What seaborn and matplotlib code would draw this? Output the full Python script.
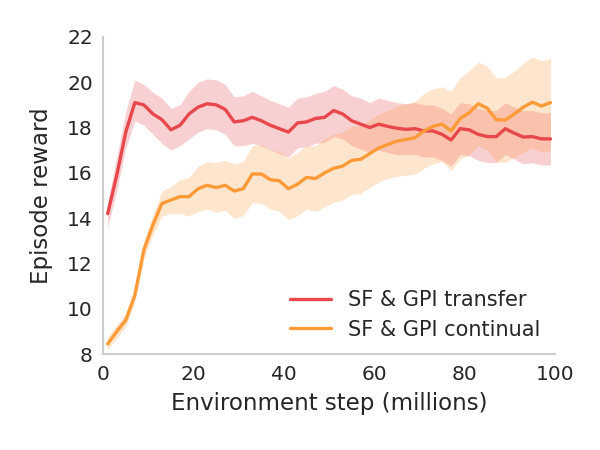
import numpy as np
import pandas as pd
import matplotlib
matplotlib.use('Agg')
import matplotlib.pyplot as plt
import seaborn as sns

# steps (millions)
steps = list(range(1, 100, 2))

# SF & GPI transfer
transfer_mean = [14.2, 15.9, 17.8, 19.1, 19.0, 18.6, 18.35, 17.9, 18.1, 18.6,
                 18.9, 19.05, 19.0, 18.8, 18.25, 18.3, 18.45, 18.3, 18.1, 17.95,
                 17.8, 18.2, 18.25, 18.4, 18.45, 18.75, 18.6, 18.3, 18.15, 18.0,
                 18.15, 18.05, 17.97, 17.92, 17.95, 17.85, 17.85, 17.7, 17.45, 17.95,
                 17.9, 17.7, 17.6, 17.6, 17.95, 17.75, 17.58, 17.6, 17.5, 17.5]
transfer_low = [13.6, 15.2, 17.1, 18.3, 18.1, 17.7, 17.3, 17.0, 17.2, 17.5,
                17.8, 17.95, 17.9, 17.7, 17.2, 17.2, 17.3, 17.2, 17.0, 16.85,
                16.7, 17.1, 17.15, 17.3, 17.35, 17.6, 17.5, 17.2, 17.05, 16.9,
                17.0, 16.9, 16.8, 16.8, 16.8, 16.7, 16.7, 16.55, 16.3, 16.8,
                16.75, 16.55, 16.45, 16.45, 16.8, 16.6, 16.4, 16.45, 16.35, 16.35]
transfer_high = [14.7, 16.7, 18.7, 20.1, 19.9, 19.55, 19.3, 18.85, 19.0, 19.6,
                 20.0, 20.15, 20.1, 19.9, 19.35, 19.4, 19.6, 19.4, 19.2, 19.05,
                 18.9, 19.3, 19.35, 19.5, 19.6, 19.85, 19.7, 19.4, 19.3, 19.1,
                 19.3, 19.2, 19.1, 19.05, 19.1, 19.0, 19.0, 18.85, 18.6, 19.1,
                 19.05, 18.85, 18.75, 18.75, 19.1, 18.9, 18.75, 18.75, 18.65, 18.65]

# SF & GPI continual
continual_mean = [8.45, 9.0, 9.5, 10.6, 12.6, 13.7, 14.65, 14.8, 14.95, 14.95,
                  15.3, 15.45, 15.35, 15.45, 15.2, 15.3, 15.95, 15.95, 15.7, 15.65,
                  15.3, 15.5, 15.8, 15.75, 16.0, 16.2, 16.3, 16.55, 16.6, 16.85,
                  17.1, 17.25, 17.4, 17.47, 17.55, 17.85, 18.05, 18.15, 17.85, 18.4,
                  18.65, 19.05, 18.85, 18.35, 18.33, 18.6, 18.9, 19.12, 18.95, 19.1]
continual_low = [8.2, 8.7, 9.2, 10.3, 12.2, 13.25, 14.1, 14.2, 14.2, 14.1,
                 14.3, 14.4, 14.25, 14.35, 14.0, 14.1, 14.7, 14.65, 14.4, 14.3,
                 13.95, 14.1, 14.4, 14.3, 14.5, 14.7, 14.8, 15.05, 15.1, 15.35,
                 15.6, 15.75, 15.85, 15.9, 15.95, 16.2, 16.4, 16.5, 16.1, 16.6,
                 16.8, 17.2, 17.0, 16.5, 16.45, 16.7, 16.9, 17.1, 16.9, 17.0]
continual_high = [8.75, 9.3, 9.8, 10.9, 13.0, 14.15, 15.2, 15.4, 15.7, 15.8,
                  16.3, 16.5, 16.45, 16.55, 16.4, 16.5, 17.2, 17.25, 17.0, 16.95,
                  16.65, 16.9, 17.2, 17.2, 17.5, 17.7, 17.8, 18.05, 18.1, 18.35,
                  18.6, 18.75, 18.95, 19.05, 19.15, 19.5, 19.7, 19.8, 19.6, 20.2,
                  20.5, 20.9, 20.7, 20.2, 20.2, 20.5, 20.85, 21.1, 20.95, 21.05]

labels = ['SF & GPI transfer', 'SF & GPI continual']
colors = ['#e8474c', '#fe9b38']

sns.set_style('white')
plt.rcParams['font.family'] = ['DejaVu Sans']

df = pd.concat([
    pd.DataFrame({'step': steps, 'reward': transfer_mean, 'agent': labels[0]}),
    pd.DataFrame({'step': steps, 'reward': continual_mean, 'agent': labels[1]}),
])

fig = plt.figure(figsize=(6, 4.5), dpi=100)
ax = fig.add_axes([0.172, 0.213, 0.753, 0.705])

ax.fill_between(steps, transfer_low, transfer_high, color='#e8474c', alpha=0.25, lw=0)
ax.fill_between(steps, continual_low, continual_high, color='#fd9a3c', alpha=0.25, lw=0)
sns.lineplot(data=df, x='step', y='reward', hue='agent', palette=colors,
             linewidth=2.4, ax=ax)

ax.set_xlim(0, 100)
ax.set_ylim(8, 22)
ax.set_xticks([0, 20, 40, 60, 80, 100])
ax.set_yticks(range(8, 23, 2))
ax.tick_params(labelsize=14.5, colors='#262626', pad=4)
ax.set_xlabel('Environment step (millions)', fontsize=16.5, color='#262626', labelpad=6)
ax.set_ylabel('Episode reward', fontsize=16.5, color='#262626', labelpad=10)
sns.despine(ax=ax)
for s in ['left', 'bottom']:
    ax.spines[s].set_color('#cccccc')
    ax.spines[s].set_linewidth(1.5)

leg = ax.legend(loc='lower right', frameon=False, fontsize=15, handlelength=2.0,
                borderaxespad=0.3, labelspacing=0.45)
for t in leg.get_texts():
    t.set_color('#262626')

fig.savefig('out.png', dpi=100)
